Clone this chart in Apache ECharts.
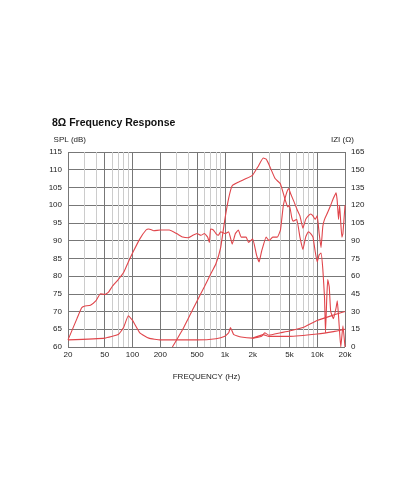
<!DOCTYPE html><html><head><meta charset="utf-8"><script src="https://cdn.jsdelivr.net/npm/echarts@6/dist/echarts.min.js"></script>
<style>body{margin:0;background:#fff}#c{width:410px;height:492px}</style></head><body><div id="c"></div><script>
const majorFreqs=[20,50,100,200,500,1000,2000,5000,10000,20000];
const majorLabels=['20','50','100','200','500','1k','2k','5k','10k','20k'];
const minorFreqs=[30,40,60,70,80,90,300,400,600,700,800,900,3000,4000,6000,7000,8000,9000];
const wooferSPL=[[20,62],[25,68],[28,71],[30,71.5],[35,71.8],[40,73],[45,75],[50,74.8],[55,75.5],[60,77],[70,79],[80,81],[90,84],[100,86.5],[120,90.5],[140,93],[150,93.3],[170,92.8],[200,93],[250,93],[300,92],[350,91],[400,90.8],[450,91.5],[500,92],[550,91.5],[600,92],[650,91],[680,89.5],[700,93.3],[750,93],[800,92],[850,91.5],[900,92.5],[1000,92],[1100,92.5],[1200,89],[1300,92],[1400,93],[1500,91],[1700,91],[1800,89.5],[2000,90.5],[2200,86],[2350,84],[2500,87],[2800,91],[3000,90],[3300,91],[3700,91],[4000,93],[4300,100],[4600,103],[4900,104.7],[5200,103],[5600,101],[6000,99],[6500,97],[7000,93.5],[7500,96],[8000,97],[8500,97.5],[9000,97],[9500,96],[10000,97],[10500,92],[11000,88],[11500,94],[12000,96],[13000,98],[14000,100],[15000,102],[16000,103.5],[16500,101],[17000,96],[17500,100],[18000,95],[18500,91],[19000,92],[20000,100]];
const tweeterSPL=[[270,60],[300,62],[350,65],[400,68],[500,73],[600,77],[700,80.5],[800,83.5],[900,88],[1000,96],[1100,102],[1200,105.5],[1400,106.5],[1700,107.5],[2000,108.5],[2300,111],[2600,113.3],[2800,113],[3000,111.5],[3500,107.5],[4000,106],[4500,101.5],[4800,99.5],[5000,100],[5300,96.5],[5500,95.5],[6000,96],[6500,91],[7000,87.5],[7500,91],[8000,92.5],[8500,92],[9000,91],[9500,87],[10000,84],[10500,86],[11000,86.5],[11500,82],[12000,74],[12300,64],[12700,74],[13000,79],[13500,77],[14000,70],[15000,68],[16000,71],[16500,73],[17000,69],[17500,64],[18000,60],[19000,66],[20000,60]];
const wooferZ=[[20,6],[50,7.5],[70,10.5],[80,16.5],[90,26.4],[100,22.5],[120,12],[150,7.5],[200,6],[500,6],[800,7],[1000,9],[1100,12],[1150,16.5],[1250,10.5],[1500,8.4],[2000,7.5],[2500,9],[2700,12],[3000,10],[4000,12],[5000,13.5],[7000,16.5],[10000,22.5],[15000,27],[20000,30]];
const tweeterZ=[[2000,7.5],[2600,10.5],[3000,9],[5000,9],[10000,11],[15000,13],[20000,15]];
const F='"Liberation Sans Narrow","Liberation Sans",sans-serif';
const red='#e0454b';
const ln=(d,y)=>({type:'line',data:d,yAxisIndex:y,showSymbol:false,smooth:0.12,lineStyle:{color:red,width:1.1},itemStyle:{color:red},z:5});
const chart=echarts.init(document.getElementById('c'));
chart.setOption({animation:false,
title:{text:'8Ω Frequency Response',left:47,top:113,textStyle:{fontSize:10.5,fontWeight:'bold',color:'#111',fontFamily:'Liberation Sans, sans-serif'}},
grid:{left:68,right:65,top:152,bottom:145},
xAxis:{type:'log',min:20,max:20000,logBase:10,axisLabel:{show:false},axisTick:{show:false},splitLine:{show:false},axisLine:{show:false},
 name:'FREQUENCY (Hz)',nameLocation:'middle',nameGap:26,nameTextStyle:{fontSize:8,color:'#222',fontFamily:F}},
yAxis:[{type:'value',min:60,max:115,interval:5,name:'SPL (dB)',nameLocation:'end',nameGap:8,nameTextStyle:{align:'right',padding:[0,-18,0,0],fontSize:8,color:'#222',fontFamily:F},
 axisLabel:{fontSize:8,color:'#222',fontFamily:F,margin:6},axisTick:{show:false},axisLine:{show:false},splitLine:{lineStyle:{color:'#777',width:1}}},
 {type:'value',min:0,max:165,interval:15,position:'right',name:'IZI (Ω)',nameGap:8,nameTextStyle:{align:'left',padding:[0,0,0,-14],fontSize:8,color:'#222',fontFamily:F},
 axisLabel:{fontSize:8,color:'#222',fontFamily:F,margin:6},axisTick:{show:false},axisLine:{show:false},splitLine:{show:false}}],
series:[
 {type:'line',data:[],markLine:{silent:true,symbol:'none',animation:false,
  data:minorFreqs.map(f=>({xAxis:f,lineStyle:{color:'#ccc',width:1,type:'solid'},label:{show:false}}))
   .concat(majorFreqs.map((f,i)=>({xAxis:f,lineStyle:{color:'#777',width:1,type:'solid'},label:{show:true,position:'start',formatter:majorLabels[i],fontSize:8,color:'#222',fontFamily:F,distance:4}})))}},
 ln(wooferSPL,0),ln(tweeterSPL,0),ln(wooferZ,1),ln(tweeterZ,1)
]});
</script></body></html>
